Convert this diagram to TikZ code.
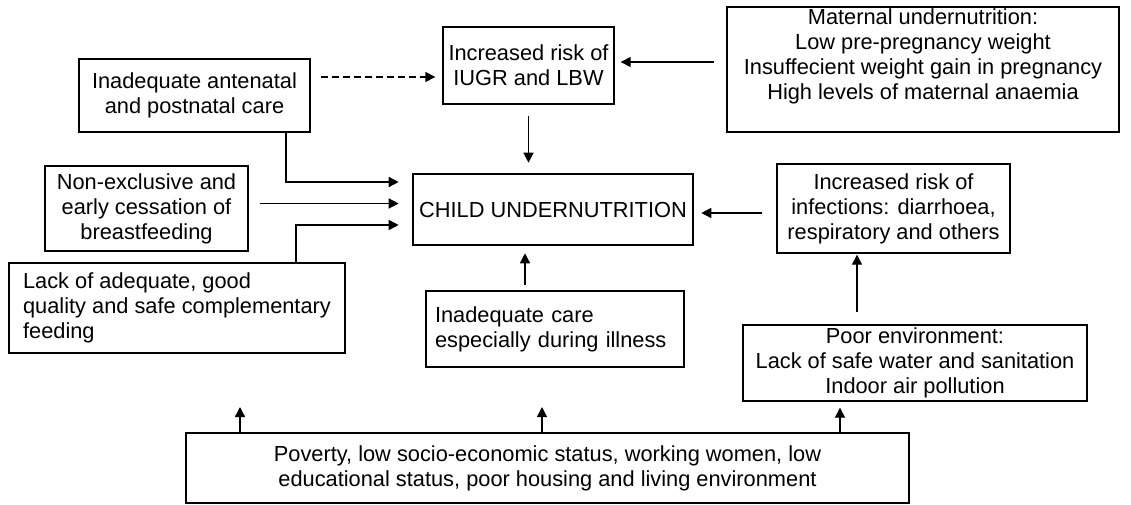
\documentclass[tikz,border=0pt]{standalone}
\usepackage{fontspec}
\setmainfont{Liberation Sans}
\usetikzlibrary{arrows.meta}

\tikzset{
  box/.style={draw, line width=0.7pt, inner sep=0pt, align=center,
    font=\fontsize{10.9}{12.5}\selectfont},
  lbox/.style={box, align=left},
  arr/.style={-{Triangle[length=5pt,width=5pt]}, line width=0.7pt},
  dasharr/.style={arr, dash pattern=on 3.5pt off 2pt},
}

\begin{document}
\begin{tikzpicture}[x=0.5pt, y=-0.5pt]
    \useasboundingbox (0,0) rectangle (1131,504);

    % boxes
    \node[box, minimum width=115.5pt, minimum height=36.5pt] (antenatal) at (194.5,95.5)
        {Inadequate antenatal\\and postnatal care};
    \node[box, minimum width=85.5pt, minimum height=38.5pt] (iugr) at (528.5,65.5)
        {Increased risk of\\IUGR and LBW};
    \node[box, minimum width=196pt, minimum height=62.5pt, text depth=15pt] (maternal) at (923,69.5)
        {Maternal undernutrition:\\Low pre-pregnancy weight\\Insuffecient weight gain in pregnancy\\High levels of maternal anaemia};
    \node[box, minimum width=101.5pt, minimum height=42.5pt] (breast) at (146.5,208.5)
        {Non-exclusive and\\early cessation of\\breastfeeding};
    \node[lbox, minimum width=168pt, minimum height=45pt] (feeding) at (177,308)
        {Lack of adequate, good\\quality and safe complementary\\feeding};
    \node[box, line width=1.3pt, minimum width=140pt, minimum height=35.5pt] (child) at (553,209.5)
        {CHILD UNDERNUTRITION};
    \node[box, minimum width=116.5pt, minimum height=44.5pt] (infect) at (893.5,208.5)
        {Increased risk of\\infections: diarrhoea,\\respiratory and others};
    \node[lbox, text width=120pt, inner xsep=4.5pt, minimum height=38pt] (care) at (555,329)
        {Inadequate care\\especially during illness};
    \node[box, minimum width=172pt, minimum height=38pt] (environ) at (915,363)
        {Poor environment:\\Lack of safe water and sanitation\\Indoor air pollution};
    \node[box, minimum width=361.5pt, minimum height=35pt] (poverty) at (547.5,468)
        {Poverty, low socio-economic status, working women, low\\educational status, poor housing and living environment};

    % top row
    \draw[dasharr, shorten <=5pt, shorten >=3.5pt] (antenatal.east |- 0,77) -- (iugr.west |- 0,77);
    \draw[arr, shorten <=6pt, shorten >=3pt] (maternal.west |- 0,62) -- (iugr.east |- 0,62);
    \draw[arr, shorten <=5.5pt, shorten >=5pt] (iugr.south) -- (iugr.south |- child.north);

    % into child undernutrition from the left
    \draw[arr, shorten >=6.5pt] (antenatal.south -| 286,0) |- (child.west |- 0,182);
    \draw[arr, shorten <=5.5pt, shorten >=6.5pt] (breast.east |- 0,203.5) -- (child.west |- 0,203.5);
    \draw[arr, shorten >=6.5pt] (feeding.north -| 296,0) |- (child.west |- 0,225);

    % right and below
    \draw[arr, shorten <=7pt, shorten >=3.5pt] (infect.west |- 0,213) -- (child.east |- 0,213);
    \draw[arr, shorten <=2.5pt, shorten >=3.5pt] (care.north -| 525,0) -- (child.south -| 525,0);
    \draw[arr, shorten <=6pt, shorten >=0.5pt] (environ.north -| 857,0) -- (infect.south -| 857,0);

    % from the bottom box
    \coordinate (up1) at (240,407);
    \coordinate (up2) at (542,407);
    \draw[arr] (poverty.north -| up1) -- (up1);
    \draw[arr] (poverty.north -| up2) -- (up2);
    \draw[arr, shorten >=3pt] (poverty.north -| 840,0) -- (environ.south -| 840,0);
\end{tikzpicture}
\end{document}
